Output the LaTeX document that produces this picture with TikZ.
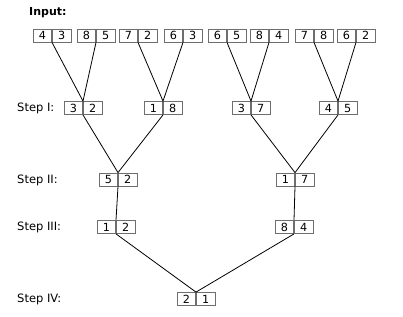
\documentclass[tikz,border=0pt]{standalone}
\usepackage{fontspec}
\setmainfont{DejaVu Sans}
\usepackage{tikz}
\usetikzlibrary{positioning}
\definecolor{CellGray}{HTML}{6E6E6E}

\begin{document}
\begin{tikzpicture}[x=1pt,y=-1pt,
    cell/.style={draw=CellGray,line width=0.8pt,minimum width=18.5pt,minimum height=13pt,inner sep=0pt,font=\fontsize{11.2}{13}\selectfont},
    steplabel/.style={anchor=west,inner sep=0pt,font=\fontsize{11.5}{13}\selectfont},
    link/.style={draw=black,line width=0.8pt}]
  \useasboundingbox (0,0) rectangle (403,316);
  \node[steplabel,font=\fontsize{11}{13}\selectfont\bfseries] (inlab) at (29,12.7) {Input:};
  \node[steplabel] (lab1) at (17,108) {Step I:};
  \node[steplabel] (lab2) at (17,180) {Step II:};
  \node[steplabel] (lab3) at (17,227.5) {Step III:};
  \node[steplabel] (lab4) at (17,299) {Step IV:};
  % input row
  \foreach \x/\a/\b [count=\i] in {52/4/3,96/8/5,138/7/2,183/6/3,227/6/5,269/8/4,314/7/8,356/6/2}{
    \node[cell,anchor=east] (i\i-l) at (\x,35.5) {\a};
    \node[cell,right=0pt of i\i-l] (i\i-r) {\b};
  }
  % step I
  \foreach \x/\a/\b [count=\i] in {83/3/2,163/1/8,251/3/7,338/4/5}{
    \node[cell,anchor=east] (s\i-l) at (\x,108) {\a};
    \node[cell,right=0pt of s\i-l] (s\i-r) {\b};
  }
  % step II
  \node[cell,anchor=east] (t1-l) at (118,179.5) {5};
  \node[cell,right=0pt of t1-l] (t1-r) {2};
  \node[cell,anchor=east] (t2-l) at (295,179.5) {1};
  \node[cell,right=0pt of t2-l] (t2-r) {7};
  % step III
  \node[cell,anchor=east] (u1-l) at (116,227) {1};
  \node[cell,right=0pt of u1-l] (u1-r) {2};
  \node[cell,anchor=east] (u2-l) at (294,227) {8};
  \node[cell,right=0pt of u2-l] (u2-r) {4};
  % step IV
  \node[cell,anchor=east] (v-l) at (196,299) {2};
  \node[cell,right=0pt of v-l] (v-r) {1};
  % connectors
  \draw[link] (i1-l.south east) -- (s1-l.north east) -- (i2-l.south east);
  \draw[link] (i3-l.south east) -- (s2-l.north east) -- (i4-l.south east);
  \draw[link] (i5-l.south east) -- (s3-l.north east) -- (i6-l.south east);
  \draw[link] (i7-l.south east) -- (s4-l.north east) -- (i8-l.south east);
  \draw[link] (s1-l.south east) -- (t1-l.north east) -- (s2-l.south east);
  \draw[link] (s3-l.south east) -- (t2-l.north east) -- (s4-l.south east);
  \draw[link] (t1-l.south east) -- (u1-l.north east);
  \draw[link] (t2-l.south east) -- (u2-l.north east);
  \draw[link] (u1-l.south east) -- (v-l.north east) -- (u2-l.south east);
\end{tikzpicture}
\end{document}
